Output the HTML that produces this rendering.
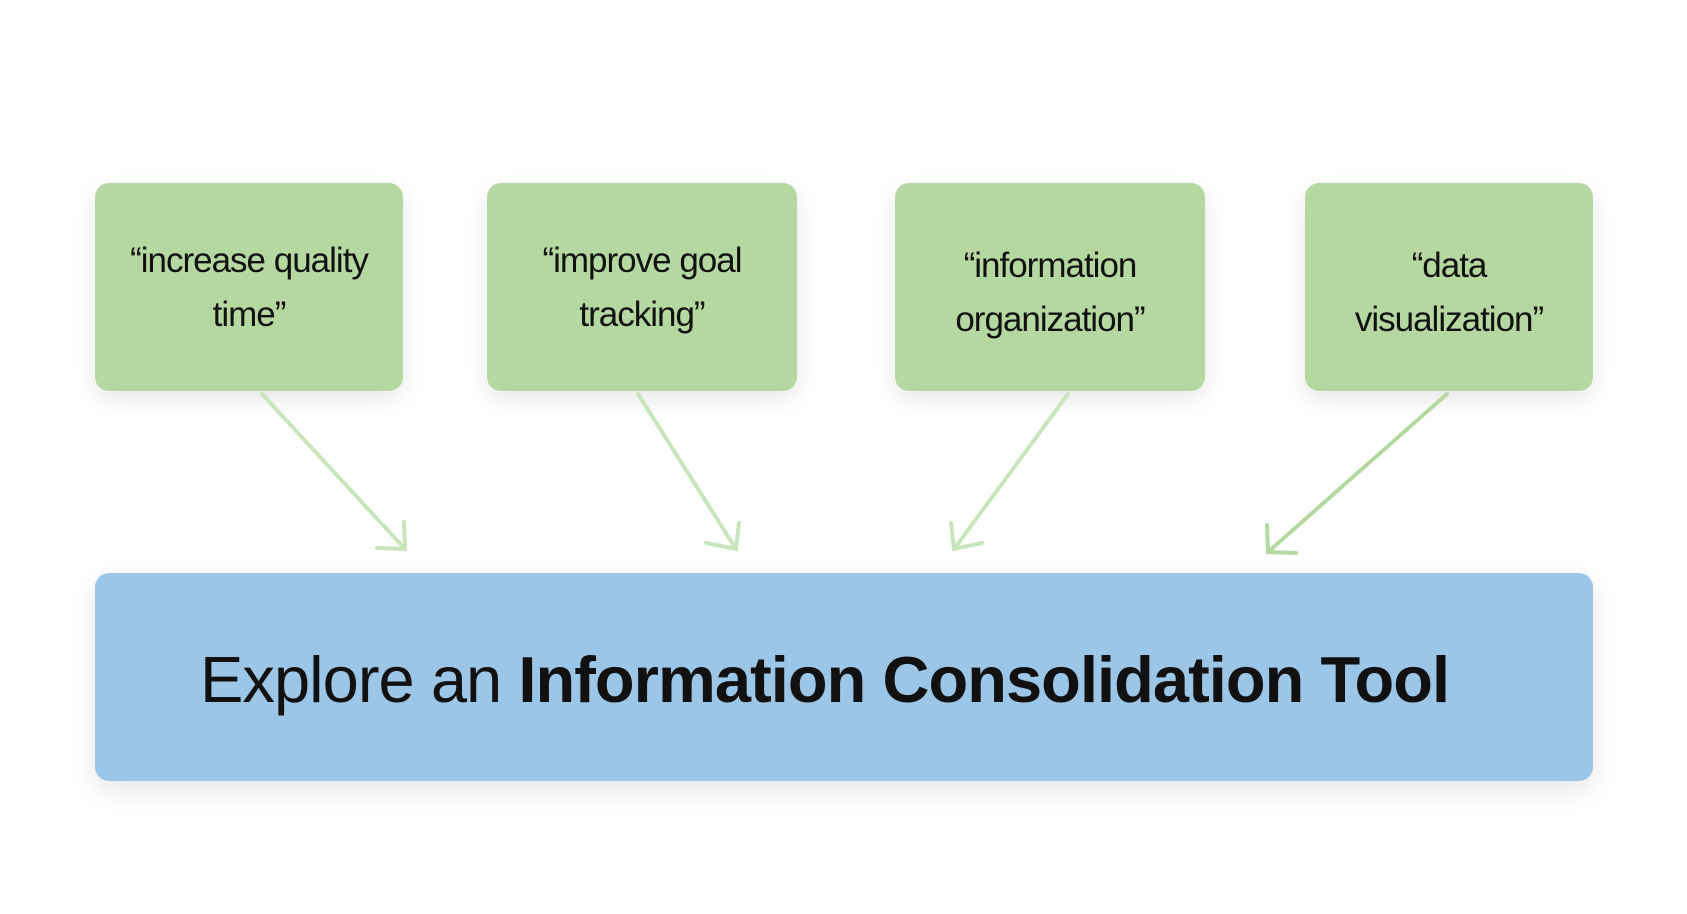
<!DOCTYPE html>
<html><head><style>
body{margin:0;width:1687px;height:914px;background:#fff;position:relative;overflow:hidden;font-family:"Liberation Sans",sans-serif;}
.g{position:absolute;background:#b5d8a0;border-radius:14px;box-shadow:0 8px 24px rgba(0,0,0,0.10);display:flex;align-items:center;justify-content:center;text-align:center;font-size:35px;line-height:54px;color:#111;letter-spacing:-1px;box-sizing:border-box;}
.b{position:absolute;left:95px;top:573px;width:1498px;height:208px;background:#9cc6e7;border-radius:14px;box-shadow:0 10px 28px rgba(0,0,0,0.10);}
.t{position:absolute;left:200px;top:640px;font-size:65px;color:#111;white-space:nowrap;letter-spacing:-0.95px;line-height:80px;}
</style></head><body>
<div class="g" style="left:95px;top:183px;width:308px;height:208px;padding-top:2px">“increase quality<br>time”</div>
<div class="g" style="left:487px;top:183px;width:310px;height:208px;padding-top:2px">“improve goal<br>tracking”</div>
<div class="g" style="left:895px;top:183px;width:310px;height:208px;padding-top:12px">“information<br>organization”</div>
<div class="g" style="left:1305px;top:183px;width:288px;height:208px;padding-top:12px">“data<br>visualization”</div>
<div class="b"></div>
<div class="t"><span style="font-weight:300">Explore an </span><b>Information Consolidation Tool</b></div>
<svg width="1687" height="914" style="position:absolute;left:0;top:0" fill="none" stroke-linecap="round" stroke-width="4">
<g stroke="#c9e5bb">
<path d="M262 394 L405 549 M404 522 L405 549 L377 548"/>
<path d="M638 394 L736 549 M739 523 L736 549 L706 543"/>
<path d="M1068 394 L954 549 M951 523 L954 549 L982 543"/>
</g>
<g stroke="#b3d9a0">
<path d="M1447 394 L1268 552 M1267 525 L1268 552 L1296 553"/>
</g>
</svg>
</body></html>
